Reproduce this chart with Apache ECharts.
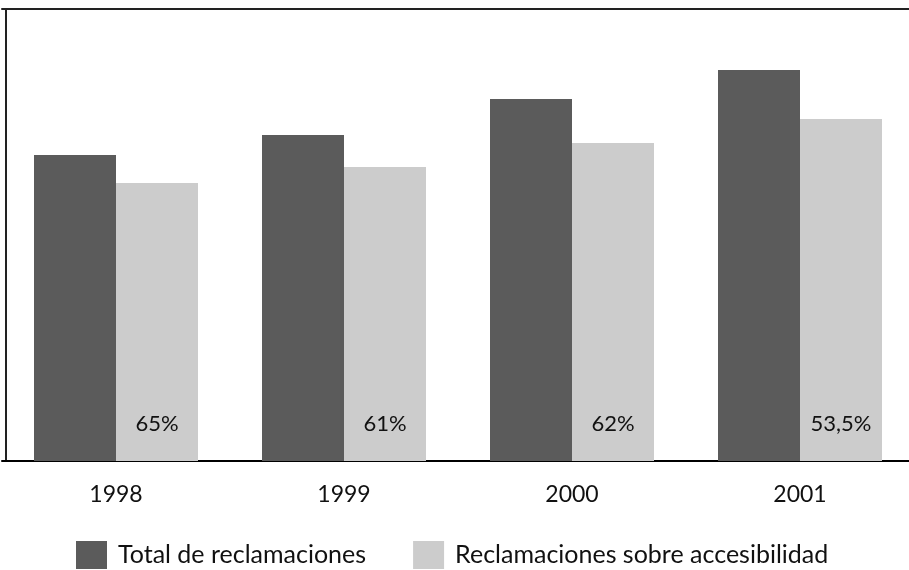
<!DOCTYPE html>
<html>
<head>
<meta charset="utf-8">
<script src="https://cdn.jsdelivr.net/npm/echarts@6/dist/echarts.min.js"></script>
<style>
  html, body { margin: 0; padding: 0; background: #ffffff; }
  #chart { width: 909px; height: 570px; }
</style>
</head>
<body>
<div id="chart"></div>
<script>
// Reclamaciones por año (unidades relativas de la escala del gráfico)
const years = ['1998', '1999', '2000', '2001'];
const totalReclamaciones = [306, 326, 362, 391];
const reclamacionesAccesibilidad = [278, 294, 318, 342];
const porcentajeAccesibilidad = ['65%', '61%', '62%', '53,5%'];
const axisMax = 452;

const FONT = 'Lato';
const TEXT = '#111111';

const chart = echarts.init(document.getElementById('chart'), null, { renderer: 'canvas' });

chart.setOption({
  animation: false,
  backgroundColor: '#ffffff',
  textStyle: { fontFamily: FONT },
  grid: {
    left: 2, width: 912, top: 9, bottom: 109,
    containLabel: false,
    outerBoundsMode: 'none'
  },
  legend: {
    top: 536,
    left: 71,
    itemWidth: 31,
    itemHeight: 28,
    itemGap: 47,
    icon: 'rect',
    textStyle: { fontFamily: FONT, fontSize: 25, color: TEXT, padding: [0, 0, 0, 6] },
    data: ['Total de reclamaciones', 'Reclamaciones sobre accesibilidad']
  },
  xAxis: [
    {
      type: 'category',
      data: years,
      position: 'bottom',
      axisLine: { show: true, lineStyle: { color: '#000000', width: 2 } },
      axisTick: { show: false },
      axisLabel: { color: TEXT, fontSize: 23, fontFamily: FONT, margin: 22 }
    },
    {
      type: 'category',
      data: years,
      position: 'top',
      axisLine: { show: true, lineStyle: { color: '#222222', width: 2 } },
      axisTick: { show: false },
      axisLabel: { show: false }
    }
  ],
  yAxis: {
    type: 'value',
    min: 0,
    max: axisMax,
    offset: -4,
    axisLine: { show: true, lineStyle: { color: '#222222', width: 2 } },
    axisTick: { show: false },
    axisLabel: { show: false },
    splitLine: { show: false }
  },
  series: [
    {
      name: 'Total de reclamaciones',
      type: 'bar',
      xAxisIndex: 0,
      data: totalReclamaciones,
      barWidth: 82,
      barGap: '0%',
      itemStyle: { color: '#5b5b5b' }
    },
    {
      name: 'Reclamaciones sobre accesibilidad',
      type: 'bar',
      xAxisIndex: 0,
      data: reclamacionesAccesibilidad,
      barWidth: 82,
      barGap: '0%',
      itemStyle: { color: '#cccccc' },
      label: {
        show: true,
        position: 'insideBottom',
        distance: 26,
        color: TEXT,
        fontFamily: FONT,
        fontSize: 22,
        lineHeight: 22,
        formatter: (p) => porcentajeAccesibilidad[p.dataIndex]
      }
    }
  ]
});
</script>
</body>
</html>
